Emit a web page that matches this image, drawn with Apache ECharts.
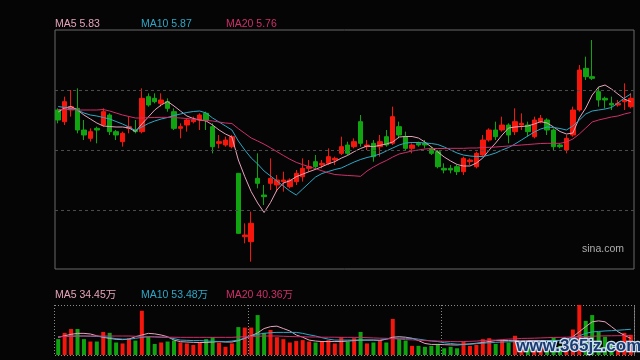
<!DOCTYPE html>
<html><head><meta charset="utf-8">
<script src="https://cdn.jsdelivr.net/npm/echarts@6/dist/echarts.min.js"></script>
<style>html,body{margin:0;padding:0;background:#050505;}#c{width:640px;height:360px;}</style>
</head><body><div id="c"></div>
<script>
// ---- data ----
const opens = [
5.78,5.71,5.78,5.79,5.66,5.61,5.67,5.69,5.75,5.65,
5.59,5.67,5.66,5.65,5.86,5.85,5.82,5.83,5.77,5.67,
5.69,5.71,5.72,5.76,5.68,5.58,5.57,5.56,5.40,5.02,
4.99,5.37,5.27,5.34,5.33,5.35,5.32,5.35,5.38,5.43,
5.47,5.45,5.46,5.48,5.52,5.57,5.56,5.71,5.56,5.58,
5.56,5.62,5.58,5.68,5.62,5.55,5.58,5.58,5.55,5.53,
5.43,5.43,5.44,5.41,5.47,5.44,5.51,5.60,5.66,5.66,
5.69,5.65,5.69,5.69,5.62,5.71,5.72,5.66,5.57,5.54,
5.63,5.78,6.03,5.98,5.89,5.85,5.82,5.81,5.83,5.80];
const closes = [
5.72,5.83,5.80,5.66,5.63,5.65,5.66,5.77,5.65,5.63,
5.64,5.68,5.65,5.85,5.81,5.83,5.84,5.79,5.67,5.68,
5.72,5.72,5.75,5.72,5.56,5.59,5.60,5.62,5.04,5.03,
5.10,5.34,5.26,5.37,5.36,5.36,5.36,5.40,5.43,5.44,
5.44,5.46,5.50,5.49,5.56,5.52,5.59,5.58,5.57,5.50,
5.59,5.57,5.74,5.63,5.55,5.57,5.57,5.57,5.52,5.44,
5.42,5.42,5.41,5.49,5.48,5.52,5.60,5.66,5.62,5.69,
5.63,5.71,5.70,5.65,5.72,5.73,5.66,5.56,5.56,5.61,
5.78,6.02,5.98,5.97,5.84,5.84,5.81,5.82,5.84,5.85];
const lows = [
5.70,5.69,5.74,5.64,5.60,5.59,5.58,5.68,5.63,5.60,
5.56,5.64,5.64,5.64,5.80,5.82,5.80,5.77,5.66,5.61,
5.65,5.70,5.66,5.66,5.52,5.55,5.56,5.55,5.04,4.98,
4.87,5.31,5.21,5.30,5.29,5.29,5.31,5.33,5.35,5.41,
5.42,5.43,5.45,5.45,5.51,5.51,5.55,5.56,5.54,5.47,
5.50,5.56,5.57,5.61,5.54,5.52,5.56,5.55,5.51,5.43,
5.40,5.40,5.39,5.39,5.45,5.43,5.50,5.59,5.60,5.65,
5.58,5.63,5.66,5.62,5.61,5.70,5.63,5.54,5.55,5.52,
5.62,5.77,5.96,5.96,5.80,5.79,5.78,5.80,5.78,5.79];
const highs = [
5.79,5.86,5.90,5.91,5.72,5.67,5.68,5.79,5.76,5.66,
5.65,5.74,5.72,5.91,5.88,5.88,5.88,5.85,5.79,5.70,
5.73,5.74,5.76,5.77,5.70,5.63,5.62,5.63,5.40,5.10,
5.17,5.52,5.33,5.49,5.39,5.41,5.37,5.42,5.49,5.48,
5.51,5.48,5.55,5.50,5.62,5.59,5.61,5.75,5.60,5.60,
5.63,5.66,5.80,5.71,5.65,5.58,5.59,5.60,5.56,5.54,
5.46,5.45,5.45,5.50,5.49,5.53,5.63,5.67,5.71,5.74,
5.70,5.79,5.76,5.71,5.74,5.75,5.73,5.67,5.58,5.63,
5.80,6.05,6.10,6.20,5.92,5.86,5.86,5.84,5.94,5.88];
const ma5 = [
5.768,5.792,5.801,5.780,5.750,5.726,5.702,5.684,5.681,5.678,
5.678,5.672,5.651,5.696,5.738,5.780,5.810,5.831,5.804,5.774,
5.744,5.729,5.720,5.714,5.690,5.660,5.636,5.618,5.480,5.380,
5.290,5.222,5.165,5.225,5.300,5.342,5.355,5.380,5.395,5.410,
5.424,5.440,5.457,5.470,5.491,5.508,5.530,5.549,5.564,5.560,
5.568,5.576,5.588,5.618,5.621,5.621,5.612,5.588,5.558,5.528,
5.498,5.474,5.453,5.444,5.444,5.462,5.492,5.540,5.582,5.630,
5.672,5.678,5.681,5.684,5.696,5.710,5.702,5.678,5.651,5.636,
5.642,5.732,5.792,5.870,5.918,5.930,5.906,5.876,5.846,5.830];
const ma10 = [
5.801,5.795,5.789,5.780,5.762,5.750,5.744,5.735,5.726,5.711,
5.696,5.678,5.657,5.678,5.699,5.714,5.726,5.735,5.747,5.756,
5.765,5.771,5.774,5.762,5.732,5.708,5.684,5.660,5.594,5.540,
5.492,5.456,5.414,5.384,5.354,5.324,5.294,5.270,5.306,5.342,
5.378,5.399,5.411,5.423,5.432,5.450,5.468,5.483,5.495,5.504,
5.516,5.534,5.552,5.570,5.582,5.585,5.585,5.582,5.579,5.573,
5.558,5.540,5.522,5.510,5.504,5.501,5.501,5.510,5.522,5.540,
5.555,5.576,5.600,5.624,5.648,5.666,5.678,5.675,5.669,5.660,
5.684,5.720,5.756,5.774,5.780,5.786,5.795,5.822,5.852,5.876];
const ma20 = [
5.783,5.783,5.783,5.780,5.780,5.780,5.780,5.783,5.774,5.762,
5.750,5.741,5.732,5.732,5.734,5.735,5.736,5.736,5.735,5.732,
5.729,5.724,5.720,5.718,5.714,5.708,5.702,5.699,5.668,5.640,
5.612,5.594,5.575,5.553,5.530,5.507,5.485,5.466,5.452,5.440,
5.428,5.415,5.403,5.393,5.390,5.387,5.385,5.382,5.414,5.438,
5.459,5.477,5.498,5.516,5.525,5.534,5.540,5.546,5.549,5.549,
5.549,5.550,5.550,5.550,5.552,5.552,5.555,5.556,5.558,5.561,
5.564,5.567,5.570,5.573,5.576,5.579,5.580,5.580,5.580,5.588,
5.606,5.636,5.672,5.708,5.720,5.729,5.738,5.744,5.756,5.765];
// volume in 万 (10k shares)
const volumes = [
33,46,54,54,33,28,28,48,46,26,
24,35,30,92,38,23,26,28,30,26,
24,21,26,33,37,26,17,24,58,57,
57,83,46,52,37,33,26,29,31,28,
26,29,31,24,37,28,35,48,24,26,
31,26,75,33,30,19,19,17,19,23,
14,17,14,28,19,21,33,35,23,30,
26,40,24,25,30,22,24,36,19,30,
53,104,71,83,48,38,23,23,46,42];
const volMa5 = [
36.7,40,43,45,45,43.7,40,36.7,34.5,32.6,
32,33,38,41.6,45,44,41.6,38,31,27.7,
27,26.3,26,26,27,28,27,27,30,34.7,
40,46,55,59,60,55,50,41.6,37,31,
29,28,28,28,28,29,30,31,31,31,
30,33,37,38,37,34.7,30,24,22,22,
21.5,21,20.8,22,23,24.5,26,28,30,30,
30,29.5,29,29.5,30,30,30,30,30,32.6,
38,48.5,59,69,71,69,59,48.5,41,34.45];
const volMa10 = [
38,38.5,39,39.5,39.5,39,38.5,38,36,34,
33,32.6,34.7,36.5,38,37.5,37,36.7,34,31,
30.5,30,30,29,28.5,28,27.7,29,31,35,
39,43,45,46.4,47,47,47,47,45,42,
39.5,36,33,31,31,31,31,31,31,31,
31,33,34.7,35,35,34.7,33,31,29,28,
25.5,24,22.5,22.2,22.5,23.5,24.5,25.5,26.3,27,
27.5,27.7,27.7,27.7,28.5,29,29.5,30,30.5,31,
35,40,45,48,49,50,50.6,51.5,52.5,53.48];
const volMa20 = [
38,38.5,39,39.5,39.5,39.5,39.5,39.5,39.5,39.5,
39.5,39.5,39,39,38.5,38,37.5,37,37,36.7,
36.7,36.7,36.7,36.7,36.7,36.7,36.7,36.7,37.5,38,
38.5,39,39.5,39.5,39.5,39,38.5,38,38,37.5,
37.5,37,37,37,36.7,36.7,36.7,36.5,36,35.5,
35,34.7,34,33,32,31.5,31,30,29.5,29,
28.5,28,27.7,28,28.5,29,30,31,31,32,
33,33.5,34.5,34.7,35,35.5,36,36.5,36.7,37,
37.5,38,38.5,39,39.5,39.8,40,40.2,40.3,40.36];
const gridLevels = [5.90, 5.54, 5.18];
const monthStarts = [30, 60];
const maNames = ['MA5', 'MA10', 'MA20'];
const maLast = ['5.83', '5.87', '5.76'];
const volMaLast = ['34.45万', '53.48万', '40.36万'];

// ---- chart ----
const RED = '#f5170c', GREEN = '#10a510';
const C5 = '#e6a3bc', C10 = '#2ea7c7', C20 = '#cf2f6a';
const cats = closes.map((_, i) => 'D' + (i + 1));
const candleData = opens.map((o, i) => [o, closes[i], lows[i], highs[i]]);
const volData = volumes.map((v, i) => ({ value: v, itemStyle: { color: closes[i] >= opens[i] ? RED : GREEN } }));
const FONT = '"Liberation Sans", Arial, "Noto Sans CJK SC", sans-serif';
const maColors = [C5, C10, C20];
const legendX = [55, 141, 226];

const graphics = [];
maNames.forEach((n, k) => {
  graphics.push({ type: 'text', left: legendX[k], top: 19, silent: true,
    style: { text: n + ' ' + maLast[k], fill: maColors[k], font: '10.5px ' + FONT } });
  graphics.push({ type: 'text', left: legendX[k], top: 290, silent: true,
    style: { text: n + ' ' + volMaLast[k], fill: maColors[k], font: '10.5px ' + FONT } });
});
graphics.push({ type: 'text', left: 582, top: 244, silent: true,
  style: { text: 'sina.com', fill: '#adadad', font: '10.5px ' + FONT } });
// volume frame
const dotted = { stroke: '#8a8a8a', lineWidth: 1, lineDash: [1, 2] };
graphics.push({ type: 'line', silent: true, shape: { x1: 55, y1: 305.5, x2: 634, y2: 305.5 }, style: dotted });
graphics.push({ type: 'line', silent: true, shape: { x1: 55, y1: 355.5, x2: 634, y2: 355.5 }, style: dotted });
graphics.push({ type: 'line', silent: true, shape: { x1: 54.5, y1: 305, x2: 54.5, y2: 356 }, style: dotted });
graphics.push({ type: 'line', silent: true, shape: { x1: 634.5, y1: 305, x2: 634.5, y2: 356 }, style: { stroke: '#6a6a6a', lineWidth: 1 } });
// watermark
graphics.push({ type: 'text', left: 515, top: 337, silent: true, z: 100,
  style: { text: 'www.365jz.com', fill: '#1b3a70', stroke: '#cfe0f2', lineWidth: 2.5,
    font: 'bold 17px ' + FONT } });

const chart = echarts.init(document.getElementById('c'));
chart.setOption({
  backgroundColor: '#050505',
  animation: false,
  graphic: graphics,
  grid: [
    { left: 55, top: 30, width: 579, height: 239, show: true, borderColor: '#6a6a6a', borderWidth: 1 },
    { left: 55, top: 305, width: 579, height: 50 }
  ],
  xAxis: [
    { type: 'category', data: cats, gridIndex: 0, axisLine: { show: false }, axisTick: { show: false },
      axisLabel: { show: false }, splitLine: { show: false } },
    { type: 'category', data: cats, gridIndex: 1, axisLine: { show: false }, axisTick: { show: false },
      axisLabel: { show: false },
      splitLine: { show: true, interval: (idx) => monthStarts.includes(idx),
        lineStyle: { color: '#8a8a8a', type: [1, 2], width: 1 } } }
  ],
  yAxis: [
    { gridIndex: 0, min: 4.826, max: 6.26, axisLine: { show: false }, axisTick: { show: false },
      axisLabel: { show: false }, splitLine: { show: false } },
    { gridIndex: 1, min: 0, max: 104, axisLine: { show: false }, axisTick: { show: false },
      axisLabel: { show: false }, splitLine: { show: false } }
  ],
  series: [
    { type: 'candlestick', xAxisIndex: 0, yAxisIndex: 0, data: candleData, barWidth: 5,
      itemStyle: { color: RED, color0: GREEN, borderColor: RED, borderColor0: GREEN, borderWidth: 1 },
      markLine: { silent: true, symbol: 'none', label: { show: false },
        lineStyle: { color: '#4c4c4c', type: [3, 3], width: 1 },
        data: gridLevels.map(v => ({ yAxis: v })) } },
    { type: 'line', xAxisIndex: 0, yAxisIndex: 0, data: ma5, symbol: 'none', lineStyle: { color: C5, width: 1 } },
    { type: 'line', xAxisIndex: 0, yAxisIndex: 0, data: ma10, symbol: 'none', lineStyle: { color: C10, width: 1 } },
    { type: 'line', xAxisIndex: 0, yAxisIndex: 0, data: ma20, symbol: 'none', lineStyle: { color: C20, width: 1 } },
    { type: 'bar', xAxisIndex: 1, yAxisIndex: 1, data: volData, barWidth: 4 },
    { type: 'line', xAxisIndex: 1, yAxisIndex: 1, data: volMa5, symbol: 'none', lineStyle: { color: C5, width: 1 } },
    { type: 'line', xAxisIndex: 1, yAxisIndex: 1, data: volMa10, symbol: 'none', lineStyle: { color: C10, width: 1 } },
    { type: 'line', xAxisIndex: 1, yAxisIndex: 1, data: volMa20, symbol: 'none', lineStyle: { color: C20, width: 1 } }
  ]
});
</script>
</body></html>
